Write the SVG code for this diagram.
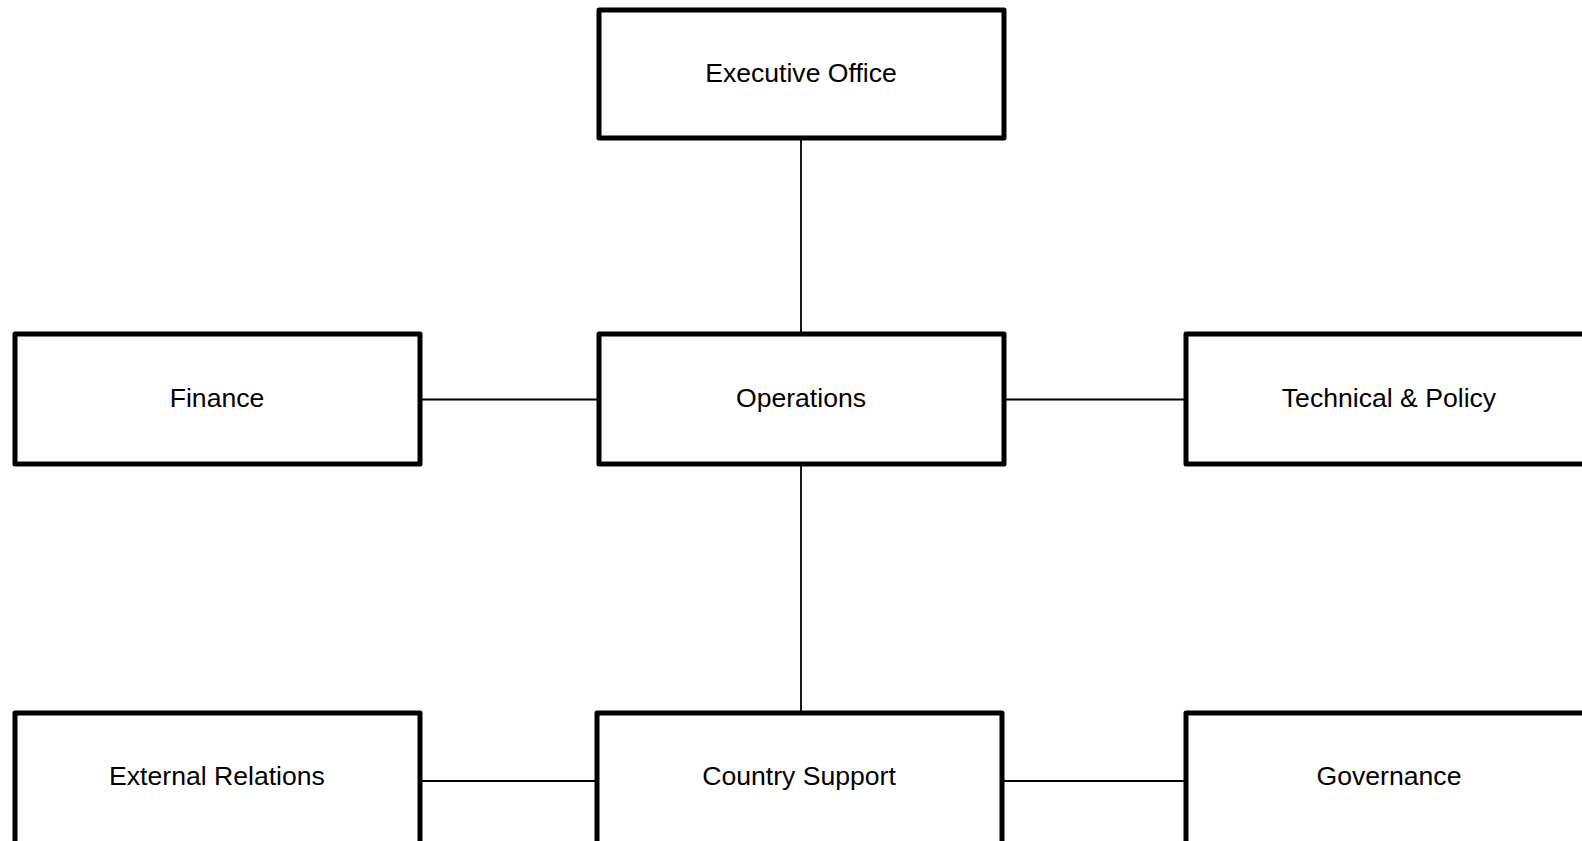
<svg xmlns="http://www.w3.org/2000/svg" width="1582" height="841" viewBox="0 0 1582 841">
<style>
.box{fill:#fff;stroke:#000;stroke-width:5;stroke-linejoin:round}
.lbl{font-family:"Liberation Sans",Arial,sans-serif;font-size:26.6px;fill:#000;text-anchor:middle;dominant-baseline:central}
.conn{stroke:#000;stroke-width:1.8;fill:none}
</style>
<rect width="1582" height="841" fill="#fff"/>
<g id="connectors">
<line class="conn" x1="801" y1="138" x2="801" y2="334"/>
<line class="conn" x1="416" y1="399.5" x2="599" y2="399.5"/>
<line class="conn" x1="1004" y1="399.5" x2="1186" y2="399.5"/>
<line class="conn" x1="801" y1="464" x2="801" y2="713"/>
<line class="conn" x1="416" y1="781" x2="597" y2="781"/>
<line class="conn" x1="1002" y1="781" x2="1186" y2="781"/>
</g>
<g id="executive-office">
<rect class="box" x="599" y="10" width="405" height="128"/>
<text class="lbl" x="801" y="73">Executive Office</text>
</g>
<g id="finance">
<rect class="box" x="15" y="334" width="405" height="130"/>
<text class="lbl" x="217" y="398">Finance</text>
</g>
<g id="operations">
<rect class="box" x="599" y="334" width="405" height="130"/>
<text class="lbl" x="801" y="398">Operations</text>
</g>
<g id="technical-policy">
<rect class="box" x="1186" y="334" width="406" height="130"/>
<text class="lbl" x="1389" y="398">Technical &amp; Policy</text>
</g>
<g id="external-relations">
<rect class="box" x="15" y="713" width="405" height="132"/>
<text class="lbl" x="217" y="776">External Relations</text>
</g>
<g id="country-support">
<rect class="box" x="597" y="713" width="405" height="132"/>
<text class="lbl" x="799" y="776">Country Support</text>
</g>
<g id="governance">
<rect class="box" x="1186" y="713" width="406" height="132"/>
<text class="lbl" x="1389" y="776">Governance</text>
</g>
</svg>
